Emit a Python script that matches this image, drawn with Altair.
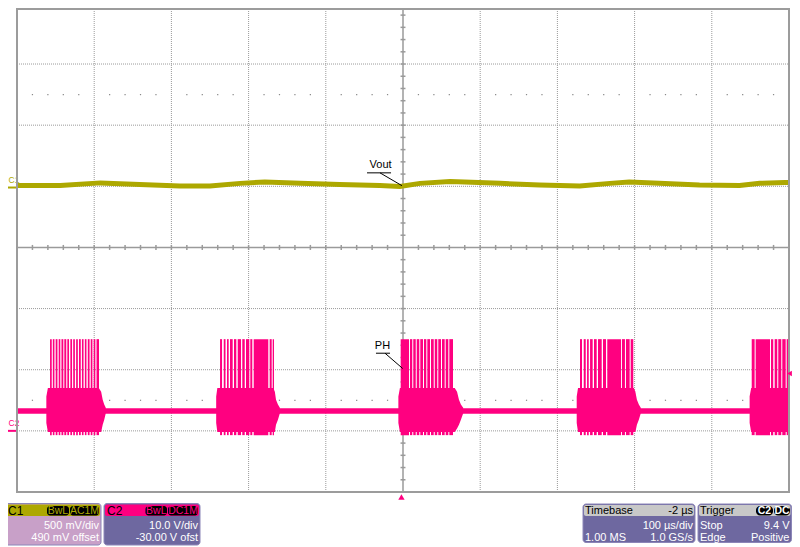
import altair as alt
import pandas as pd

# Channel 1 (Vout), 500 mV/div, 490 mV offset, AC coupled
C1_SCALE = 500.0      # mV/div
C1_OFFSET = 490.0     # mV
C1_T  = [-500, -496, -444, -392, -341, -289, -250, -211, -179, -133, -82, -30, -4, 22, 61, 126, 177, 229, 268, 293, 332, 384, 436, 462, 495, 500]
C1_MV = [17, 17, 17, 38, 25, 13, 13, 34, 46, 34, 25, 17, 9, 34, 50, 34, 21, 13, 34, 46, 34, 21, 17, 34, 42, 42]

# Channel 2 (PH), 10 V/div, -30 V offset
C2_SCALE = 10.0       # V/div
C2_OFFSET = -30.0     # V
BASE_LO, BASE_HI = 2.8, 3.7          # idle ringing band (V)

# burst envelopes: burst id, time (us), low (V), high (V)
ENV_BURST = [1]*7 + [2]*7 + [3]*7 + [4]*7 + [5]*3
ENV_T  = [-462, -460, -394, -391, -389, -387, -385,
          -242, -240.5, -168, -166, -164.5, -162, -159.5,
          -6, -4, 67, 70, 72.5, 75, 78,
          225, 226.7, 299, 301, 303, 305.5, 308,
          449, 451, 500]
ENV_LO = [1.3, -0.2, -0.2, -0.2, 1.0, 1.8, 2.9,
          1.3, -0.2, -0.2, -0.2, 1.0, 1.8, 2.9,
          1.3, -0.2, -0.2, 0.4, 1.0, 1.8, 2.9,
          1.3, -0.2, -0.2, -0.2, 1.0, 1.8, 2.9,
          1.3, -0.2, -0.2]
ENV_HI = [5.6, 7.0, 7.0, 6.4, 5.1, 4.3, 3.8,
          5.6, 7.0, 7.0, 6.4, 5.1, 4.3, 3.8,
          5.6, 7.0, 7.0, 6.4, 5.1, 4.3, 3.8,
          5.6, 7.0, 7.0, 6.4, 5.1, 4.3, 3.8,
          5.6, 7.0, 7.0]

# switching pulses (us start, us end), pulse level low/high (V)
PULSE_T0 = [-457.2, -453.6, -449.9, -446.0, -442.4, -438.7, -434.8, -430.9, -427.2, -423.4, -419.7, -415.9, -412.1, -408.3, -404.5, -400.7, -397.0,
            -237.0, -232.2, -228.0, -224.1, -218.9, -214.1, -208.2, -203.4, -197.8, -193.4, -172.7, -168.8,
            -3.0, 9.1, 13.3, 17.8, 22.4, 27.2, 31.5, 36.3, 41.1, 45.7, 50.5, 55.3, 60.0,
            229.3, 234.1, 238.4, 242.3, 247.4, 252.6, 259.1, 264.6, 283.6, 288.8, 294.9,
            451.7, 456.8, 476.7, 481.4, 486.1, 491.3, 497.0]
PULSE_T1 = [-455.0, -451.5, -447.6, -443.9, -440.0, -436.2, -432.6, -428.7, -425.0, -421.2, -417.4, -413.8, -410.0, -406.0, -402.3, -398.5, -393.8,
            -234.4, -229.9, -225.8, -220.6, -215.9, -209.8, -205.0, -199.1, -195.2, -174.5, -170.1, -167.1,
            7.8, 12.0, 16.5, 21.1, 25.9, 30.2, 35.0, 39.8, 44.4, 49.2, 54.0, 58.7, 64.8,
            231.9, 236.7, 240.6, 245.7, 250.9, 257.4, 263.0, 282.4, 287.5, 293.6, 298.3,
            455.5, 475.4, 479.6, 484.8, 490.0, 495.7, 500.0]
PULSE_LO, PULSE_HI = -0.7, 15.0

TRIG_LEVEL = 9.4      # V on C2
TRIG_TIME = -2        # us

# annotations (time us, division)
ANN_TEXT = ["Vout", "PH"]
ANN_T = [-29.0, -26.6]
ANN_D = [1.35, -1.62]
UL_T0 = [-46.6, -35.0]
UL_T1 = [-15.5, -16.8]
UL_D  = [1.22, -1.73]
LD_T0 = [-29.8, -23.3]
LD_D0 = [1.22, -1.73]
LD_T1 = [-1.3, -0.4]
LD_D1 = [1.01, -1.98]

# grid (time per division 100 us, 10 div; 8 div vertical)
GRID_T = [-400, -300, -200, -100, 100, 200, 300, 400]
GRID_D = [-3, -2, -1, 1, 2, 3]

# ---------------- styles ----------------
C1_COLOR = "#ADA800"
C2_COLOR = "#FF0080"
GRID_COLOR = "#9A9A9A"
PANEL_BODY = "#6E68A0"
PANEL_EDGE = "#8C86B8"
FONT = "Liberation Sans"
W, H = 772, 483
OX, OY = 17, 9   # page position of plot origin
YDOM = [-4, 3.9]

X = alt.X("t:Q", scale=alt.Scale(domain=[-500, 500], nice=False, zero=False), axis=None)
XT0 = alt.X("t0:Q", scale=alt.Scale(domain=[-500, 500], nice=False, zero=False), axis=None)
def Yf(f):
    return alt.Y(f + ":Q", scale=alt.Scale(domain=YDOM, nice=False, zero=False), axis=None)

one = pd.DataFrame({"k": [0]})
layers = []

# dotted grid
layers.append(alt.Chart(pd.DataFrame({"t": GRID_T})).mark_rule(color=GRID_COLOR, strokeWidth=1, strokeDash=[1, 1])
              .encode(x=X, y=alt.value(0), y2=alt.value(H)))
layers.append(alt.Chart(pd.DataFrame({"d": GRID_D})).mark_rule(color=GRID_COLOR, strokeWidth=1, strokeDash=[1, 1])
              .encode(y=Yf("d"), x=alt.value(0), x2=alt.value(W)))
# dots at +-2.5 div
dots = pd.DataFrame([{"t": t, "d": d} for d in (2.5, -2.5) for t in range(-480, 500, 20) if t % 100 != 0])
layers.append(alt.Chart(dots).mark_square(size=1.5, color="#8A8A8A", opacity=1).encode(x=X, y=Yf("d")))
# centre cross
layers.append(alt.Chart(pd.DataFrame({"t": [0]})).mark_rule(color=GRID_COLOR, strokeWidth=1.5)
              .encode(x=X, y=alt.value(0), y2=alt.value(H)))
layers.append(alt.Chart(pd.DataFrame({"d": [0]})).mark_rule(color=GRID_COLOR, strokeWidth=1.5)
              .encode(y=Yf("d"), x=alt.value(0), x2=alt.value(W)))
tick_t = pd.DataFrame({"t": [t for t in range(-480, 500, 20) if t != 0]})
layers.append(alt.Chart(tick_t).transform_calculate(lo="-0.041", hi="0.041")
              .mark_rule(color=GRID_COLOR, strokeWidth=1.5).encode(x=X, y=Yf("lo"), y2=alt.Y2("hi:Q")))
tick_d = pd.DataFrame({"d": [k / 5 for k in range(-19, 20) if k != 0]})
layers.append(alt.Chart(tick_d).transform_calculate(t0="-3.2", t1="3.2")
              .mark_rule(color=GRID_COLOR, strokeWidth=1.5)
              .encode(x=XT0, x2=alt.X2("t1:Q"), y=Yf("d")))

# C1 trace
c1 = pd.DataFrame({"t": C1_T, "mv": C1_MV})
c1d = f"datum.mv/{C1_SCALE} + {C1_OFFSET}/{C1_SCALE}"
layers.append(alt.Chart(c1).transform_calculate(d=c1d)
              .mark_line(color=C1_COLOR, strokeWidth=5).encode(x=X, y=Yf("d")))

# C2 idle band
base = pd.DataFrame({"t0": [-500], "t1": [500], "lo": [BASE_LO], "hi": [BASE_HI]})
c2lo = f"datum.lo/{C2_SCALE} + {C2_OFFSET}/{C2_SCALE}"
c2hi = f"datum.hi/{C2_SCALE} + {C2_OFFSET}/{C2_SCALE}"
layers.append(alt.Chart(base).transform_calculate(dlo=c2lo, dhi=c2hi)
              .mark_rect(color=C2_COLOR).encode(x=XT0, x2=alt.X2("t1:Q"), y=Yf("dlo"), y2=alt.Y2("dhi:Q")))
# burst envelopes
env = pd.DataFrame({"burst": ENV_BURST, "t": ENV_T, "lo": ENV_LO, "hi": ENV_HI})
layers.append(alt.Chart(env).transform_calculate(dlo=c2lo, dhi=c2hi)
              .mark_area(color=C2_COLOR, opacity=1)
              .encode(x=X, y=Yf("dlo"), y2=alt.Y2("dhi:Q"), detail="burst:N"))
# pulses
pul = pd.DataFrame({"t0": PULSE_T0, "t1": PULSE_T1})
pul["lo"] = PULSE_LO
pul["hi"] = PULSE_HI
layers.append(alt.Chart(pul).transform_calculate(dlo=c2lo, dhi=c2hi)
              .mark_rect(color=C2_COLOR).encode(x=XT0, x2=alt.X2("t1:Q"), y=Yf("dlo"), y2=alt.Y2("dhi:Q")))

# channel ground markers and labels
gnd = pd.DataFrame({"ch": ["C1", "C2"],
                    "d": [0 / C1_SCALE + C1_OFFSET / C1_SCALE, 0 / C2_SCALE + C2_OFFSET / C2_SCALE],
                    "col": [C1_COLOR, C2_COLOR]})
layers.append(alt.Chart(gnd).mark_rule(strokeWidth=2)
              .encode(x=alt.value(-9), x2=alt.value(0), y=Yf("d"),
                      color=alt.Color("col:N", scale=None)))
layers.append(alt.Chart(gnd).mark_text(font=FONT, fontSize=8.5, align="left", baseline="middle", dy=-8)
              .encode(x=alt.value(-8.5), y=Yf("d"), text="ch:N", color=alt.Color("col:N", scale=None)))

# annotations
ann = pd.DataFrame({"txt": ANN_TEXT, "t": ANN_T, "d": ANN_D})
layers.append(alt.Chart(ann).mark_text(font=FONT, fontSize=11, color="black", baseline="middle", align="center")
              .encode(x=X, y=Yf("d"), text="txt:N"))
ul = pd.DataFrame({"t0": UL_T0, "t1": UL_T1, "d": UL_D})
layers.append(alt.Chart(ul).mark_rule(color="black", strokeWidth=1)
              .encode(x=XT0, x2=alt.X2("t1:Q"), y=Yf("d")))
ld = pd.DataFrame({"t0": LD_T0, "t1": LD_T1, "d0": LD_D0, "d1": LD_D1})
layers.append(alt.Chart(ld).mark_rule(color="black", strokeWidth=1)
              .encode(x=XT0, x2=alt.X2("t1:Q"), y=Yf("d0"), y2=alt.Y2("d1:Q")))

# frame
layers.append(alt.Chart(one).mark_rect(fillOpacity=0, stroke="#9C9C9C", strokeWidth=2)
              .encode(x=alt.value(0), x2=alt.value(W), y=alt.value(0), y2=alt.value(H)))

# trigger markers
trg = pd.DataFrame({"v": [TRIG_LEVEL], "t": [TRIG_TIME]})
layers.append(alt.Chart(trg).transform_calculate(d=f"datum.v/{C2_SCALE} + {C2_OFFSET}/{C2_SCALE}")
              .mark_point(shape="triangle-left", filled=True, size=30, color=C2_COLOR, opacity=1)
              .encode(x=alt.value(789.5 - OX), y=Yf("d")))
layers.append(alt.Chart(trg).mark_point(shape="triangle-up", filled=True, size=40, color=C2_COLOR, opacity=1)
              .encode(x=X, y=alt.value(497 - OY)))

# ---------------- info panels ----------------
def box(x1, y1, x2, y2, fill, stroke=None, r=0):
    kw = dict(fill=fill, cornerRadius=r)
    if stroke:
        kw.update(stroke=stroke, strokeWidth=1)
    return alt.Chart(one).mark_rect(**kw).encode(
        x=alt.value(x1 - OX), x2=alt.value(x2 - OX), y=alt.value(y1 - OY), y2=alt.value(y2 - OY))

def label(x, y, s, color, align="left", size=11, weight="normal"):
    return alt.Chart(one).mark_text(text=s, align=align, baseline="middle", fontSize=size, font=FONT,
                                    color=color, fontWeight=weight).encode(
        x=alt.value(x - OX), y=alt.value(y - OY))

HT, HB = 504.5, 516       # header band
HY, R2, R3 = 510.5, 526, 538
panels = [
    # C1
    box(5, 503.5, 101, 545, "#C8A0C8", PANEL_EDGE, 3),
    box(6, HT, 100, HB, C1_COLOR, None, 2),
    label(8, HY, "C1", "black", size=12),
    box(47, HT + 1.5, 69, HB - 0.5, "black", None, 3), label(58, HY + 0.5, "BwL", C1_COLOR, "center", 10.5),
    box(70, HT + 1.5, 99, HB - 0.5, "black", None, 3), label(84.5, HY + 0.5, "AC1M", C1_COLOR, "center", 10.5),
    label(99, R2, "500 mV/div", "white", "right"),
    label(99, R3, "490 mV offset", "white", "right"),
    # C2
    box(104, 503.5, 200, 545, PANEL_BODY, PANEL_EDGE, 3),
    box(105, HT, 199, HB, C2_COLOR, None, 2),
    label(107, HY, "C2", "black", size=12),
    box(145.5, HT + 1.5, 167, HB - 0.5, "black", None, 3), label(156.3, HY + 0.5, "BwL", C2_COLOR, "center", 10.5),
    box(168, HT + 1.5, 198, HB - 0.5, "black", None, 3), label(183, HY + 0.5, "DC1M", C2_COLOR, "center", 10.5),
    label(198, R2, "10.0 V/div", "white", "right"),
    label(198, R3, "-30.00 V ofst", "white", "right"),
    # Timebase
    box(583, 504, 695, 542.5, PANEL_BODY, PANEL_EDGE, 3),
    box(584, HT + 0.5, 694, HB, "#C8C8C8", None, 2),
    label(585, HY, "Timebase", "black"),
    label(693, HY, "-2 µs", "black", "right"),
    label(693, R2, "100 µs/div", "white", "right"),
    label(585, R3, "1.00 MS", "white"),
    label(693, R3, "1.0 GS/s", "white", "right"),
    # Trigger
    box(698, 504, 791.5, 542.5, PANEL_BODY, PANEL_EDGE, 3),
    box(699, HT + 0.5, 790.5, HB, "#C8C8C8", None, 2),
    label(700, HY, "Trigger", "black"),
    box(756, HT + 1.5, 773, HB - 0.5, "black", None, 4), label(764.5, HY + 0.5, "C2", "white", "center", 10.5, "bold"),
    box(774, HT + 1.5, 790, HB - 0.5, "black", None, 4), label(782, HY + 0.5, "DC", "white", "center", 10.5, "bold"),
    label(700, R2, "Stop", "white"),
    label(789.5, R2, "9.4 V", "white", "right"),
    label(700, R3, "Edge", "white"),
    label(789.5, R3, "Positive", "white", "right"),
]

# SVG 784 wide (fits 800 with 8px margins), 539 tall
chart = alt.layer(*layers, *panels).properties(
    width=W, height=H,
    padding={"left": 9, "top": 1, "right": 3, "bottom": 55},
    autosize="none",
    background="white",
).configure_view(strokeWidth=0)

chart.save("out.html", embed_options={"renderer": "svg", "actions": False})
